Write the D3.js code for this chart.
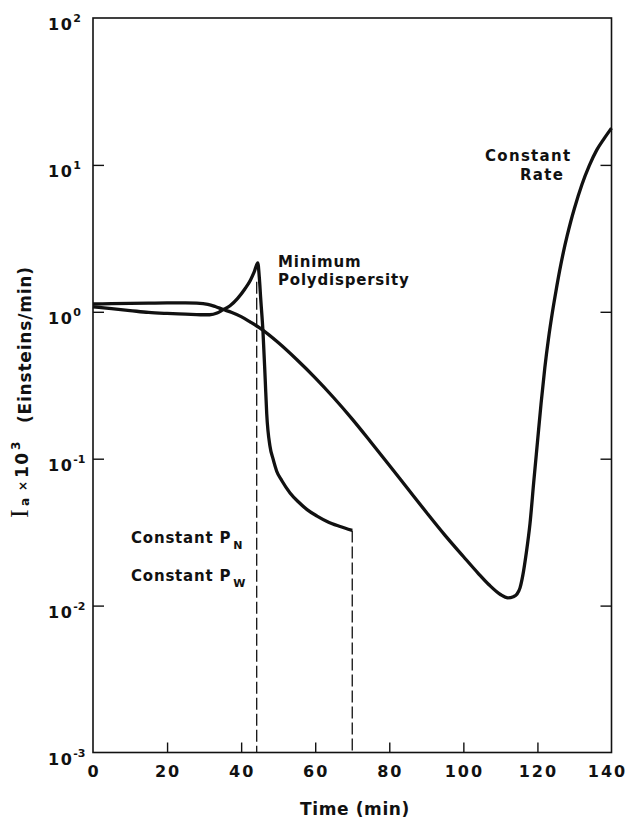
<!DOCTYPE html>
<html>
<head>
<meta charset="utf-8">
<script src="https://cdn.jsdelivr.net/npm/d3@7"></script>
<style>
  body { margin: 0; background: #fff; }
  text { font-family: "DejaVu Sans", "Liberation Sans", Arial, sans-serif; font-weight: bold; fill: #111; }
</style>
</head>
<body>
<svg id="chart" width="628" height="819"></svg>
<script>
// Absorbed light intensity Ia x 10^3 (Einsteins/min) versus time (min)
// Constant-rate policy
const rateTime = [0, 5, 10, 15, 20, 25, 28, 31, 33, 35, 37.5, 40, 42.5, 45, 50, 55, 60, 65, 70, 75, 80, 85, 90, 95, 100, 104, 107, 110, 112, 113.5, 114.5, 115.3, 116, 117, 118, 119, 120, 121, 122, 123, 124, 125, 126, 127, 128, 129, 130, 132, 134, 136, 138, 140];
const rateIa = [1.13, 1.135, 1.14, 1.145, 1.15, 1.15, 1.145, 1.124, 1.086, 1.04, 0.989, 0.927, 0.851, 0.776, 0.617, 0.473, 0.355, 0.26, 0.186, 0.13, 0.0902, 0.0624, 0.0432, 0.0302, 0.0216, 0.0166, 0.0138, 0.0119, 0.0113, 0.0115, 0.012, 0.0132, 0.0158, 0.0229, 0.0363, 0.0692, 0.129, 0.24, 0.417, 0.661, 0.977, 1.38, 1.905, 2.54, 3.27, 4.12, 5.07, 7.33, 9.89, 12.6, 15.1, 17.8];

// Minimum-polydispersity policy, then constant PN / PW
const minPolyTime = [0, 5, 10, 15, 20, 25, 29, 31.5, 33.5, 35, 37, 39, 41, 42.5, 43.5, 44.5, 44.9, 45.3, 45.9, 46.5, 46.9, 47.8, 48.6, 49.6, 51, 53.2, 55.5, 57.8, 60.5, 63.2, 66.5, 70];
const minPolyIa = [1.08, 1.05, 1.02, 0.99, 0.975, 0.965, 0.955, 0.955, 0.98, 1.03, 1.1, 1.23, 1.43, 1.64, 1.86, 2.15, 1.72, 1.21, 0.73, 0.345, 0.204, 0.121, 0.1, 0.0822, 0.0708, 0.0585, 0.0507, 0.045, 0.0407, 0.0374, 0.0347, 0.0325];

// Policy switch times (dashed verticals) and the value each starts from
const switchTime = [44.2, 70];
const switchFrom = [1.6, 0.0325];

const xTickValues = [0, 20, 40, 60, 80, 100, 120, 140];
const yTickValues = [1e-3, 1e-2, 1e-1, 1e0, 1e1, 1e2];
const yTickExponents = ["-3", "-2", "-1", "0", "1", "2"];

const svg = d3.select("#chart");
const plotLeft = 93, plotRight = 611.5, plotTop = 18, plotBottom = 752.5;

const x = d3.scaleLinear().domain([0, 140]).range([plotLeft, plotRight]);
const y = d3.scaleLog().domain([1e-3, 1e2]).range([plotBottom, plotTop]);

// inward ticks
svg.append("g").attr("transform", `translate(0,${plotBottom})`)
  .call(d3.axisBottom(x).tickValues(xTickValues.slice(1, -1)).tickSize(-10).tickFormat(""))
  .call(g => g.select(".domain").remove())
  .call(g => g.selectAll("line").attr("stroke", "#111").attr("stroke-width", 1.4));
svg.append("g").attr("transform", `translate(${plotLeft},0)`)
  .call(d3.axisLeft(y).tickValues(yTickValues.slice(1, -1)).tickSize(-11).tickFormat(""))
  .call(g => g.select(".domain").remove())
  .call(g => g.selectAll("line").attr("stroke", "#111").attr("stroke-width", 1.4));
svg.append("g").attr("transform", `translate(${plotRight},0)`)
  .call(d3.axisRight(y).tickValues(yTickValues.slice(1, -1)).tickSize(-11).tickFormat(""))
  .call(g => g.select(".domain").remove())
  .call(g => g.selectAll("line").attr("stroke", "#111").attr("stroke-width", 1.4));

// frame
svg.append("rect")
  .attr("x", plotLeft).attr("y", plotTop)
  .attr("width", plotRight - plotLeft).attr("height", plotBottom - plotTop)
  .attr("fill", "none").attr("stroke", "#111").attr("stroke-width", 1.6);

// x tick labels (the last one pulled in from the edge)
svg.append("g").selectAll("text").data(xTickValues).join("text")
  .attr("x", d => x(d) + (d === 140 ? -4 : 1))
  .attr("y", 777)
  .attr("text-anchor", "middle")
  .attr("font-size", 16)
  .attr("letter-spacing", 2)
  .text(d => d);

// y tick labels: 10 with superscript exponent
const yl = svg.append("g").selectAll("text").data(yTickValues).join("text")
  .attr("x", 48)
  .attr("y", d => y(d) + 12)
  .attr("font-size", 16)
  .attr("letter-spacing", 1.5);
yl.append("tspan").text("10");
yl.append("tspan")
  .attr("font-size", 11)
  .attr("dy", -8)
  .attr("letter-spacing", 0)
  .text((d, i) => yTickExponents[i]);

// axis titles
svg.append("text")
  .attr("x", 355).attr("y", 815)
  .attr("text-anchor", "middle")
  .attr("font-size", 17)
  .attr("letter-spacing", 0.6)
  .text("Time (min)");

const yt = svg.append("g").attr("transform", "translate(28,522) rotate(-90)");
yt.append("text").attr("x", 4).attr("y", 0)
  .style("font-family", "'Liberation Serif', 'DejaVu Serif', serif")
  .style("font-weight", "normal")
  .attr("font-size", 26)
  .text("I");
yt.append("text").attr("x", 16).attr("y", 1).attr("font-size", 12).text("a");
yt.append("text").attr("x", 31).attr("y", -1).attr("font-size", 12).text("×");
yt.append("text").attr("x", 44).attr("y", 0).attr("font-size", 17).attr("letter-spacing", 1.5).text("10");
yt.append("text").attr("x", 72).attr("y", -8).attr("font-size", 12).text("3");
yt.append("text").attr("x", 99).attr("y", 3).attr("font-size", 17).attr("letter-spacing", 0.8).text("(Einsteins/min)");

// curves
const line = d3.line()
  .x(d => x(d[0]))
  .y(d => y(d[1]))
  .curve(d3.curveMonotoneX);

const rateData = rateTime.map((t, i) => [t, rateIa[i]]);
const minPolyData = minPolyTime.map((t, i) => [t, minPolyIa[i]]);

// dashed switch lines
svg.append("g").selectAll("line").data(switchTime).join("line")
  .attr("x1", d => x(d)).attr("x2", d => x(d))
  .attr("y1", (d, i) => y(switchFrom[i]))
  .attr("y2", y(1e-3))
  .attr("stroke", "#111")
  .attr("stroke-width", 1.3)
  .attr("stroke-dasharray", "12,4");

svg.append("path").datum(rateData)
  .attr("d", line)
  .attr("fill", "none").attr("stroke", "#111").attr("stroke-width", 3.3)
  .attr("stroke-linejoin", "round");
svg.append("path").datum(minPolyData)
  .attr("d", line)
  .attr("fill", "none").attr("stroke", "#111").attr("stroke-width", 3.3)
  .attr("stroke-linejoin", "round");

// annotations
const ann = svg.append("g").attr("font-size", 15).attr("letter-spacing", 0.8);
ann.append("text").attr("x", 278).attr("y", 267).text("Minimum");
ann.append("text").attr("x", 278).attr("y", 285).text("Polydispersity");
ann.append("text").attr("x", 485).attr("y", 161).attr("letter-spacing", 1.3).text("Constant");
ann.append("text").attr("x", 520).attr("y", 180).attr("letter-spacing", 1.3).text("Rate");

const pn = ann.append("text").attr("x", 131).attr("y", 543);
pn.append("tspan").text("Constant P");
pn.append("tspan").attr("font-size", 11).attr("dy", 6).attr("dx", 2).text("N");
const pw = ann.append("text").attr("x", 131).attr("y", 581);
pw.append("tspan").text("Constant P");
pw.append("tspan").attr("font-size", 11).attr("dy", 6).attr("dx", 2).text("W");
</script>
</body>
</html>
